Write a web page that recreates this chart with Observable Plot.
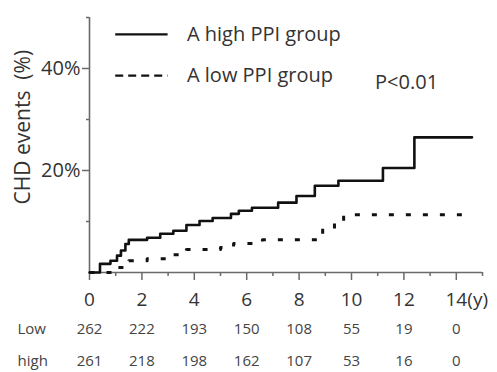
<!DOCTYPE html>
<html>
<head>
<meta charset="utf-8">
<script src="https://cdn.jsdelivr.net/npm/d3@7"></script>
<script src="https://cdn.jsdelivr.net/npm/@observablehq/plot@0.6"></script>
<style>
  html, body { margin: 0; padding: 0; background: #fff; }
  #chart svg { display: block; }
</style>
</head>
<body>
<div id="chart"></div>
<script>
// Kaplan–Meier style cumulative CHD event curves (years, %)
const highX = [0, 0.15, 0.4, 0.8, 1.05, 1.2, 1.37, 1.5, 2.2, 2.7, 3.2, 3.7, 4.2, 4.7, 5.4, 5.7, 6.2, 7.2, 7.9, 8.6, 9.5, 11.2, 12.4, 14.6];
const highY = [0, 0, 1.7, 2.3, 3.3, 4.3, 5.6, 6.4, 6.8, 7.6, 8.2, 9.3, 10.1, 10.7, 11.5, 12.1, 12.7, 13.7, 15, 17, 18, 20.5, 26.5, 26.5];
const lowX = [0, 1.0, 1.5, 2.2, 3.2, 3.7, 5.0, 5.5, 6.6, 8.9, 9.35, 9.7, 14.3];
const lowY = [0, 1.0, 2.3, 2.7, 3.5, 4.5, 4.9, 5.7, 6.4, 8.6, 9.8, 11.3, 11.3];

// axes
const xTicks = [0, 2, 4, 6, 8, 10, 12, 14];
const xMinor = [1, 3, 5, 7, 9, 11, 13, 15];
const yTicks = [20, 40];
const yMinor = [10, 30, 50];
const yLabel = "CHD events  (%)";
const xUnit = "(y)";

// numbers at risk
const riskRows = ["Low", "high"];
const lowAtRisk = [262, 222, 193, 150, 108, 55, 19, 0];
const highAtRisk = [261, 218, 198, 162, 107, 53, 16, 0];

// legend
const legendLabels = ["A high PPI group", "A low PPI group"];
const pValue = "P<0.01";

const high = highX.map((x, i) => ({x, y: highY[i]}));
const low = lowX.map((x, i) => ({x, y: lowY[i]}));
const legend = [
  {label: legendLabels[0], y: 46.7},
  {label: legendLabels[1], y: 38.6}
];

const axisColor = "#6a6a6a";
const textColor = "#333";
const riskColor = "#444";

const chart = Plot.plot({
  width: 497,
  height: 372,
  marginLeft: 89,
  marginRight: 15,
  marginTop: 17,
  marginBottom: 100,
  x: {domain: [0, 15]},
  y: {domain: [0, 50]},
  style: {fontFamily: "'Open Sans', sans-serif", background: "#fff"},
  marks: [
    // axis lines
    Plot.ruleY([0], {stroke: axisColor, strokeWidth: 1.6}),
    Plot.ruleX([0], {stroke: axisColor, strokeWidth: 1.6}),
    // y ticks
    Plot.axisY({ticks: yTicks, tickSize: 7, tickPadding: 2, tickFormat: d => d + "%", fontSize: 20, label: null, stroke: axisColor, fill: textColor, strokeWidth: 1.5}),
    Plot.axisY({ticks: yMinor, tickSize: 3, tickPadding: 0, tickFormat: () => "", label: null, stroke: axisColor, strokeWidth: 1.5}),
    // x ticks
    Plot.axisX({ticks: xTicks, tickSize: 8, tickFormat: () => "", label: null, stroke: axisColor, strokeWidth: 1.5}),
    Plot.axisX({ticks: xMinor, tickSize: 4, tickFormat: () => "", label: null, stroke: axisColor, strokeWidth: 1.5}),
    Plot.text(xTicks, {x: d => d, y: 0, dy: 27, text: d => String(d), fontSize: 19, fill: textColor}),
    Plot.text([xUnit], {x: 14, y: 0, dx: 11, dy: 27, text: d => d, textAnchor: "start", fontSize: 19, fill: textColor}),
    // y label
    Plot.text([yLabel], {x: 0, y: 28.5, dx: -66, rotate: -90, text: d => d, fontSize: 21, fill: textColor}),
    // curves
    Plot.line(high, {x: "x", y: "y", curve: "step-after", stroke: "#111", strokeWidth: 2.6}),
    Plot.line(low, {x: "x", y: "y", curve: "step-after", stroke: "#111", strokeWidth: 3, strokeDasharray: "5,12", strokeLinecap: "butt"}),
    // legend
    Plot.ruleY([legend[0]], {y: "y", x1: 1.0, x2: 3.0, stroke: "#111", strokeWidth: 2.4}),
    Plot.ruleY([legend[1]], {y: "y", x1: 1.0, x2: 3.0, stroke: "#111", strokeWidth: 2.4, strokeDasharray: "8,5"}),
    Plot.text(legend, {x: 3.72, y: "y", text: "label", textAnchor: "start", fontSize: 20, fill: textColor}),
    Plot.text([pValue], {x: 10.9, y: 37.3, text: d => d, textAnchor: "start", fontSize: 20, fill: textColor}),
    // numbers at risk
    Plot.text([riskRows[0]], {x: 0, y: 0, dx: -72, dy: 57, text: d => d, textAnchor: "start", fontSize: 15, fill: riskColor}),
    Plot.text([riskRows[1]], {x: 0, y: 0, dx: -72, dy: 89, text: d => d, textAnchor: "start", fontSize: 15, fill: riskColor}),
    Plot.text(xTicks, {x: d => d, y: 0, dy: 57, text: (d, i) => String(lowAtRisk[i]), fontSize: 15, fill: riskColor}),
    Plot.text(xTicks, {x: d => d, y: 0, dy: 89, text: (d, i) => String(highAtRisk[i]), fontSize: 15, fill: riskColor})
  ]
});

document.getElementById("chart").appendChild(chart);
</script>
</body>
</html>
